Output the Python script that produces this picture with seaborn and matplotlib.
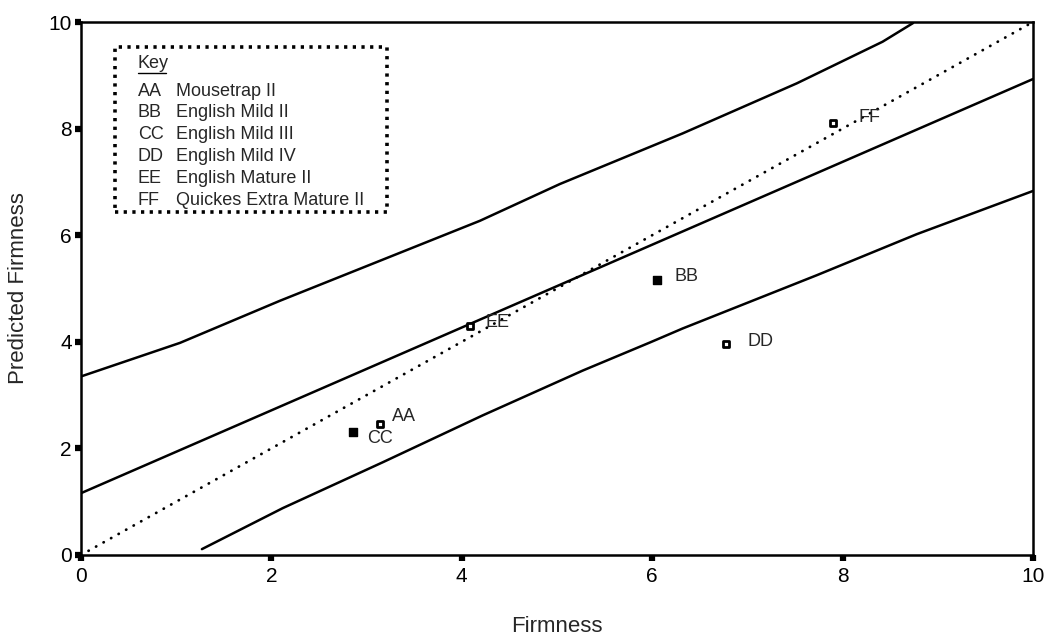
import matplotlib
matplotlib.use("Agg")
import matplotlib.pyplot as plt
import seaborn as sns
import pandas as pd
from matplotlib.patches import Rectangle

# ---- data ----
codes = ["AA", "BB", "CC", "DD", "EE", "FF"]
names = ["Mousetrap II", "English Mild II", "English Mild III",
         "English Mild IV", "English Mature II", "Quickes Extra Mature II"]
firmness = [3.14, 6.05, 2.86, 6.78, 4.09, 7.90]
predicted = [2.46, 5.16, 2.30, 3.96, 4.30, 8.10]

fit_x = [0.0, 10.0]
fit_y = [1.16, 8.93]

upper_x = [0.0, 1.04, 2.09, 3.14, 4.19, 5.03, 6.32, 7.52, 8.42, 8.74]
upper_y = [3.35, 3.98, 4.77, 5.52, 6.27, 6.96, 7.91, 8.85, 9.63, 9.98]

lower_x = [1.27, 2.12, 3.17, 4.22, 5.27, 5.98, 6.32, 7.73, 8.78, 10.0]
lower_y = [0.11, 0.88, 1.74, 2.62, 3.46, 3.99, 4.25, 5.25, 6.02, 6.83]

ident_x = [0.0, 10.0]
ident_y = [0.0, 10.0]

ticks = [0, 2, 4, 6, 8, 10]

# ---- style ----
sns.set_style("white")
plt.rcParams["font.family"] = ["Liberation Sans", "DejaVu Sans"]

W, H = 1047, 638
fig = plt.figure(figsize=(W / 100, H / 100), dpi=100)
L, R, T, B = 81, 1033, 22, 555
ax = fig.add_axes([L / W, 1 - B / H, (R - L) / W, (B - T) / H])

line_kw = dict(color="black", linewidth=1.8, sort=False, estimator=None, ax=ax)
sns.lineplot(x=fit_x, y=fit_y, **line_kw)
sns.lineplot(x=upper_x, y=upper_y, **line_kw)
sns.lineplot(x=lower_x, y=lower_y, **line_kw)
sns.lineplot(x=ident_x, y=ident_y, color="black", linewidth=2.0,
             dashes=False, sort=False, estimator=None, ax=ax)
ax.lines[-1].set_linestyle((0, (0.1, 3.0)))
ax.lines[-1].set_dash_capstyle("round")

df = pd.DataFrame({"code": codes, "x": firmness, "y": predicted})
filled = {"BB", "CC"}
hollow_df = df[~df["code"].isin(filled)]
filled_df = df[df["code"].isin(filled)]
sns.scatterplot(data=hollow_df, x="x", y="y", marker="s", s=22,
                color="white", edgecolor="black", linewidth=2.0, ax=ax, zorder=5)
sns.scatterplot(data=filled_df, x="x", y="y", marker="s", s=30,
                color="black", edgecolor="black", linewidth=1.0, ax=ax, zorder=5)

# label offsets in pixels (style, not data)
offsets = {"AA": (12, 7, "left", "center"), "BB": (18, 3, "left", "center"),
           "CC": (14, -6, "left", "center"), "DD": (21, 2, "left", "center"),
           "EE": (15, 3, "left", "center"), "FF": (25, 6, "left", "center")}
for c, x, y in zip(codes, firmness, predicted):
    dx, dy, ha, va = offsets[c]
    ax.annotate(c, (x, y), xytext=(dx, dy), textcoords="offset pixels",
                ha=ha, va=va, fontsize=13, zorder=6)

ax.set_xlim(0, 10)
ax.set_ylim(0, 10)
ax.set_xticks(ticks)
ax.set_yticks(ticks)
ax.set_xticklabels([str(t) for t in ticks], fontsize=15)
ax.set_yticklabels([str(t) for t in ticks], fontsize=15)
ax.tick_params(axis="both", direction="out", length=4.5, width=4.5,
               color="black", pad=2, labelcolor="black",
               bottom=True, left=True, top=False, right=False)
ax.tick_params(axis="x", pad=4)
for lab in ax.get_yticklabels():
    lab.set_verticalalignment("center_baseline")
for s in ax.spines.values():
    s.set_color("black")
    s.set_linewidth(1.8)

ax.set_xlabel("")
ax.set_ylabel("")
fig.text(557 / W, 1 - 626 / H, "Firmness", ha="center", va="center", fontsize=16)
fig.text(19 / W, 1 - 288 / H, "Predicted Firmness", ha="center", va="center",
         rotation=90, fontsize=16)

# ---- key box ----
bx0, by0, bx1, by1 = 115, 47, 387, 212
fig.patches.append(Rectangle((bx0 / W, 1 - by1 / H), (bx1 - bx0) / W, (by1 - by0) / H,
                             transform=fig.transFigure, fill=False, edgecolor="black",
                             linewidth=2.6, linestyle=(0, (0.9, 1.5))))
fig.text(138 / W, 1 - 63 / H, "Key", ha="left", va="center", fontsize=13)
fig.add_artist(plt.Line2D([138 / W, 166 / W], [1 - 73 / H, 1 - 73 / H],
                          transform=fig.transFigure, color="black", linewidth=1.0))
for i, (c, n) in enumerate(zip(codes, names)):
    yy = 91 + i * 21.8
    fig.text(138 / W, 1 - yy / H, c, ha="left", va="center", fontsize=13)
    fig.text(176 / W, 1 - yy / H, n, ha="left", va="center", fontsize=13)

fig.savefig("out.png", dpi=100)
